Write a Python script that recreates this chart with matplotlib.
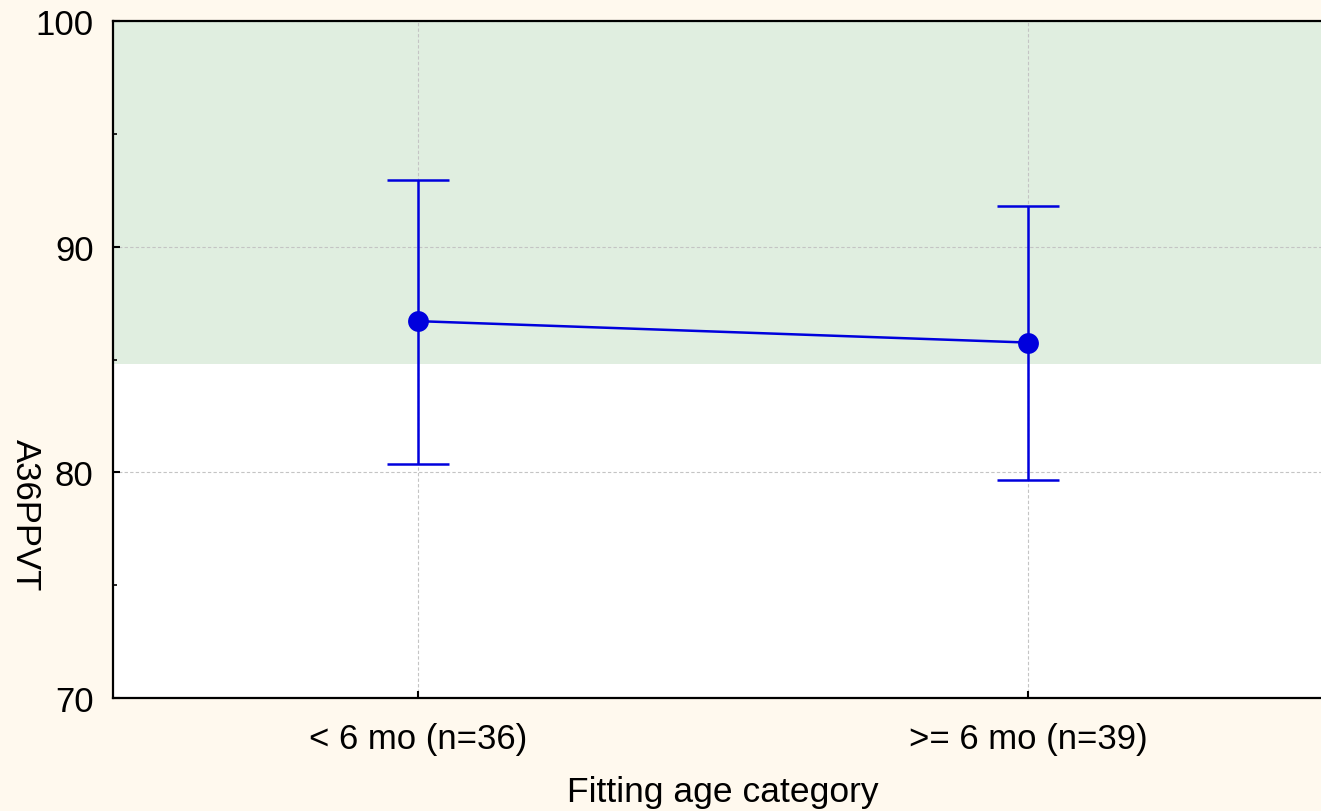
import matplotlib
matplotlib.use("Agg")
import matplotlib.pyplot as plt
from matplotlib.ticker import MultipleLocator

plt.rcParams['font.family'] = ['Liberation Sans', 'DejaVu Sans']

categories = ["< 6 mo (n=36)", ">= 6 mo (n=39)"]
means = [86.7, 85.75]
upper = [92.95, 91.8]
lower = [80.35, 79.65]
band_low = 84.8
band_high = 100
y_ticks = [70, 80, 90, 100]

bg = "#FFF9EE"
blue = "#0000DD"

fig = plt.figure(figsize=(13.21, 8.12), dpi=100, facecolor=bg)
ax = fig.add_axes([113/1321, 1 - 699/812, 1220.5/1321, 677/812])
ax.set_facecolor("white")

x = list(range(len(categories)))
ax.axhspan(band_low, band_high, color="#E0EEE0", zorder=0, lw=0)

yerr = [[m - l for m, l in zip(means, lower)], [u - m for m, u in zip(means, upper)]]
ax.errorbar(x, means, yerr=yerr, color=blue, ecolor=blue, lw=1.8, elinewidth=1.8,
            capsize=22.5, capthick=1.8, fmt="-", zorder=3)
ax.plot(x, means, linestyle="none", marker="o", markersize=15, color=blue,
        markeredgewidth=0, zorder=4)

ax.set_xlim(-0.5, 1.5)
ax.set_ylim(70, 100)
ax.set_xticks(x)
ax.set_xticklabels(categories)
ax.set_yticks(y_ticks)
ax.yaxis.set_minor_locator(MultipleLocator(5))

ax.grid(True, which="major", color="#C4C4C4", linestyle=(0, (3, 2)), lw=0.8, zorder=1)
ax.set_axisbelow(True)

for s in ax.spines.values():
    s.set_linewidth(1.6)
    s.set_color("black")

ax.tick_params(axis="both", which="major", direction="in", length=5, width=1.5,
               labelsize=25, colors="black")
ax.tick_params(axis="y", which="major", pad=14)
ax.tick_params(axis="x", which="major", pad=17)
ax.tick_params(axis="y", which="minor", direction="in", length=3, width=1.2)

fig.text(723/1321, 1 - 793/812, "Fitting age category", ha="center", va="center", fontsize=25.5)
fig.text(25/1321, 1 - 515/812, "A36PPVT", ha="center", va="center", rotation=270, fontsize=25)

fig.savefig("out.png", dpi=100, facecolor=bg)
